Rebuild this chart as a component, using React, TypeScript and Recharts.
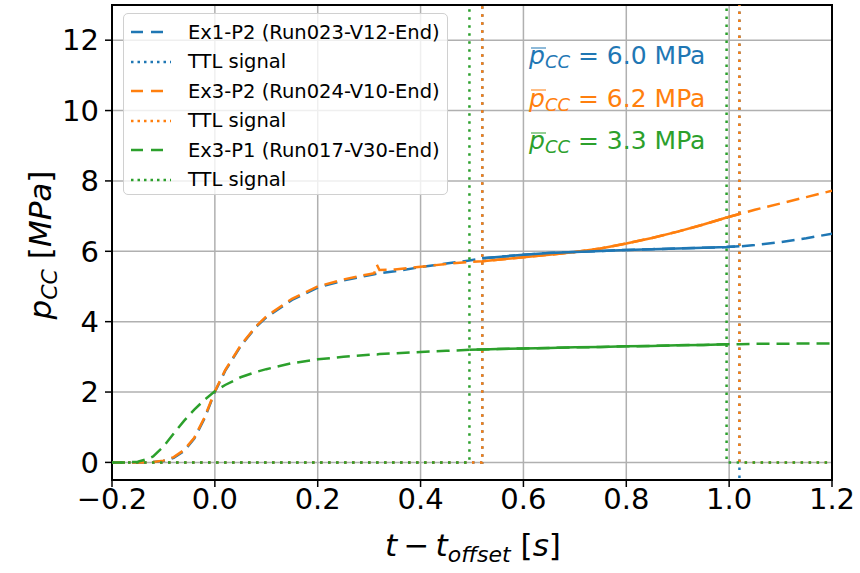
import React from 'react';
import { LineChart, Line, XAxis, YAxis, CartesianGrid, ReferenceArea } from 'recharts';

// time base shared by the three pressure curves [s]
const time = [
    -0.2, -0.17, -0.15, -0.13, -0.12, -0.1, -0.08, -0.06, -0.04, -0.02, 0, 0.02, 0.05, 0.08, 0.1, 0.15, 0.2, 0.25,
    0.3, 0.31, 0.315, 0.32, 0.35, 0.4, 0.45, 0.495, 0.52, 0.55, 0.6, 0.65, 0.7, 0.75, 0.8, 0.85, 0.9, 0.95, 0.995,
    1.02, 1.05, 1.1, 1.15, 1.2,
];

// chamber pressure [MPa]
const ex1P2 = [
    0, 0, 0, 0, 0.01, 0.04, 0.13, 0.32, 0.68, 1.25, 2.0, 2.6, 3.3, 3.85, 4.12, 4.62, 4.97, 5.17, 5.32, 5.35, 5.36,
    5.38, 5.43, 5.55, 5.65, 5.74, 5.8, 5.84, 5.9, 5.95, 5.98, 6.01, 6.04, 6.06, 6.08, 6.1, 6.12, 6.14, 6.18, 6.26,
    6.37, 6.5,
];
const ex3P2 = [
    0, 0, 0, 0, 0.01, 0.05, 0.15, 0.35, 0.7, 1.28, 2.02, 2.62, 3.32, 3.87, 4.15, 4.65, 5.0, 5.2, 5.35, 5.38, 5.62,
    5.47, 5.48, 5.56, 5.64, 5.7, 5.72, 5.76, 5.83, 5.9, 5.98, 6.08, 6.22, 6.38, 6.56, 6.76, 6.96, 7.06, 7.18, 7.36,
    7.54, 7.72,
];
const ex3P1 = [
    0, 0, 0.02, 0.1, 0.17, 0.45, 0.82, 1.18, 1.5, 1.78, 2.02, 2.2, 2.42, 2.57, 2.65, 2.82, 2.93, 3.0, 3.06, 3.07,
    3.07, 3.08, 3.1, 3.14, 3.17, 3.2, 3.21, 3.22, 3.24, 3.25, 3.27, 3.28, 3.3, 3.31, 3.33, 3.34, 3.36, 3.36, 3.37,
    3.37, 3.38, 3.38,
];

// TTL signals (high level lies above the visible range)
const ttlTime12 = [-0.2, 0.52, 0.52, 1.02, 1.02, 1.2];
const ttlTime3 = [-0.2, 0.495, 0.495, 0.995, 0.995, 1.2];
const ttlEx1P2 = [0, 0, 20, 20, -2, -2];
const ttlEx3P2 = [0, 0, 20, 20, 0, 0];
const ttlEx3P1 = [0, 0, 20, 20, 0, 0];

// window of each TTL pulse (solid part of the curve)
const window12 = [0.52, 1.02];
const window3 = [0.495, 0.995];

const xTicks = [-0.2, 0, 0.2, 0.4, 0.6, 0.8, 1.0, 1.2];
const yTicks = [0, 2, 4, 6, 8, 10, 12];

const meanLabels = ['6.0', '6.2', '3.3'];
const legendLabels = ['Ex1-P2 (Run023-V12-End)', 'Ex3-P2 (Run024-V10-End)', 'Ex3-P1 (Run017-V30-End)'];

const BLUE = '#1f77b4';
const ORANGE = '#ff7f0e';
const GREEN = '#2ca02c';
const FONT = '"DejaVu Sans", sans-serif';
const DASH = '13 7';
const DOT = '2.5 5.5';

const toPoints = (t: number[], p: number[]) => t.map((v, i) => ({ t: v, p: p[i] }));
const inWindow = (pts: { t: number; p: number }[], w: number[]) => pts.filter((d) => d.t >= w[0] && d.t <= w[1]);

const blue = toPoints(time, ex1P2);
const orange = toPoints(time, ex3P2);
const green = toPoints(time, ex3P1);

const fmt = (v: number) => v.toFixed(1).replace('-', '\u2212');

const LegendSample = ({ color, dotted }: { color: string; dotted: boolean }) => (
    <svg width={42} height={6} style={{ display: 'block' }}>
        <line x1={1} y1={3} x2={41} y2={3} stroke={color} strokeWidth={2.5} strokeDasharray={dotted ? '2.5 4' : '12 8'} />
    </svg>
);

const App = () => {
    const colors = [BLUE, ORANGE, GREEN];
    const rows: { color: string; dotted: boolean; text: string }[] = [];
    legendLabels.forEach((l, i) => {
        rows.push({ color: colors[i], dotted: false, text: l });
        rows.push({ color: colors[i], dotted: true, text: 'TTL signal' });
    });
    return (
        <div style={{ position: 'absolute', left: 0, top: 0, width: 860, height: 573, background: '#fff', fontFamily: FONT }}>
            <LineChart width={860} height={573} margin={{ top: 5, right: 28, left: 0, bottom: 0 }}>
                <CartesianGrid stroke="#b0b0b0" strokeWidth={1.5} horizontalValues={yTicks} verticalValues={xTicks} />
                <XAxis
                    dataKey="t"
                    type="number"
                    domain={[-0.2, 1.2]}
                    ticks={xTicks}
                    allowDataOverflow
                    tickFormatter={fmt}
                    height={93}
                    tickSize={7}
                    tickMargin={1}
                    axisLine={false}
                    tickLine={{ stroke: '#000', strokeWidth: 1.5 }}
                    tick={{ fill: '#000', fontSize: 29, fontFamily: FONT }}
                />
                <YAxis
                    type="number"
                    domain={[-0.5, 13]}
                    ticks={yTicks}
                    allowDataOverflow
                    width={112}
                    tickSize={7}
                    tickMargin={6}
                    axisLine={false}
                    tickLine={{ stroke: '#000', strokeWidth: 1.5 }}
                    tick={{ fill: '#000', fontSize: 29, fontFamily: FONT }}
                />
                <Line data={blue} dataKey="p" stroke={BLUE} strokeWidth={2.5} strokeDasharray={DASH} dot={false} isAnimationActive={false} />
                <Line data={toPoints(ttlTime12, ttlEx1P2)} dataKey="p" stroke={BLUE} strokeWidth={2.5} strokeDasharray={DOT} dot={false} isAnimationActive={false} />
                <Line data={orange} dataKey="p" stroke={ORANGE} strokeWidth={2.5} strokeDasharray={DASH} dot={false} isAnimationActive={false} />
                <Line data={toPoints(ttlTime12, ttlEx3P2)} dataKey="p" stroke={ORANGE} strokeWidth={2.5} strokeDasharray={DOT} dot={false} isAnimationActive={false} />
                <Line data={green} dataKey="p" stroke={GREEN} strokeWidth={2.5} strokeDasharray={DASH} dot={false} isAnimationActive={false} />
                <Line data={toPoints(ttlTime3, ttlEx3P1)} dataKey="p" stroke={GREEN} strokeWidth={2.5} strokeDasharray={DOT} dot={false} isAnimationActive={false} />
                <Line data={inWindow(orange, window12)} dataKey="p" stroke={ORANGE} strokeWidth={2.5} dot={false} isAnimationActive={false} />
                <Line data={inWindow(blue, window12)} dataKey="p" stroke={BLUE} strokeWidth={2.5} dot={false} isAnimationActive={false} />
                <Line data={inWindow(green, window3)} dataKey="p" stroke={GREEN} strokeWidth={2.5} dot={false} isAnimationActive={false} />
                <ReferenceArea x1={-0.2} x2={1.2} y1={-0.5} y2={13} fill="none" stroke="#000" strokeWidth={2} />
            </LineChart>

            {/* legend */}
            <div
                style={{
                    position: 'absolute',
                    left: 123,
                    top: 13,
                    width: 325,
                    height: 182,
                    border: '1.5px solid #d0d0d0',
                    borderRadius: 5,
                    background: 'rgba(255,255,255,0.8)',
                    boxSizing: 'border-box',
                }}
            >
                {rows.map((r, i) => (
                    <div key={i} style={{ position: 'absolute', left: 6, top: 4 + i * 29.5, height: 28, display: 'flex', alignItems: 'center' }}>
                        <LegendSample color={r.color} dotted={r.dotted} />
                        <span style={{ marginLeft: 16, fontSize: 19.5, color: '#000', whiteSpace: 'nowrap' }}>{r.text}</span>
                    </div>
                ))}
            </div>

            {/* mean pressure annotations */}
            {meanLabels.map((m, i) => (
                <div
                    key={m + i}
                    style={{ position: 'absolute', left: 529, top: 56 + i * 42.5, transform: 'translateY(-50%)', fontSize: 25, color: colors[i], whiteSpace: 'nowrap' }}
                >
                    <span style={{ position: 'relative', fontStyle: 'italic' }}>
                        p
                        <span style={{ position: 'absolute', left: '0.08em', right: '-0.06em', top: '0.27em', borderTop: '1.6px solid currentColor' }} />
                    </span>
                    <sub style={{ fontSize: 18, fontStyle: 'italic', verticalAlign: '-4px' }}>CC</sub> = {m} MPa
                </div>
            ))}

            {/* axis labels */}
            <div style={{ position: 'absolute', left: 473, top: 547, transform: 'translate(-50%, -50%)', fontSize: 31, whiteSpace: 'nowrap' }}>
                <i>t</i>&thinsp;−&thinsp;<i>t</i>
                <sub style={{ fontSize: 22, fontStyle: 'italic', verticalAlign: '-6px' }}>offset</sub> [<i>s</i>]
            </div>
            <div style={{ position: 'absolute', left: 42, top: 245, transform: 'translate(-50%, -50%) rotate(-90deg)', fontSize: 31, whiteSpace: 'nowrap' }}>
                <i>p</i>
                <sub style={{ fontSize: 22, fontStyle: 'italic', verticalAlign: '-6px' }}>CC</sub> [<i>MPa</i>]
            </div>
        </div>
    );
};

export default App;
